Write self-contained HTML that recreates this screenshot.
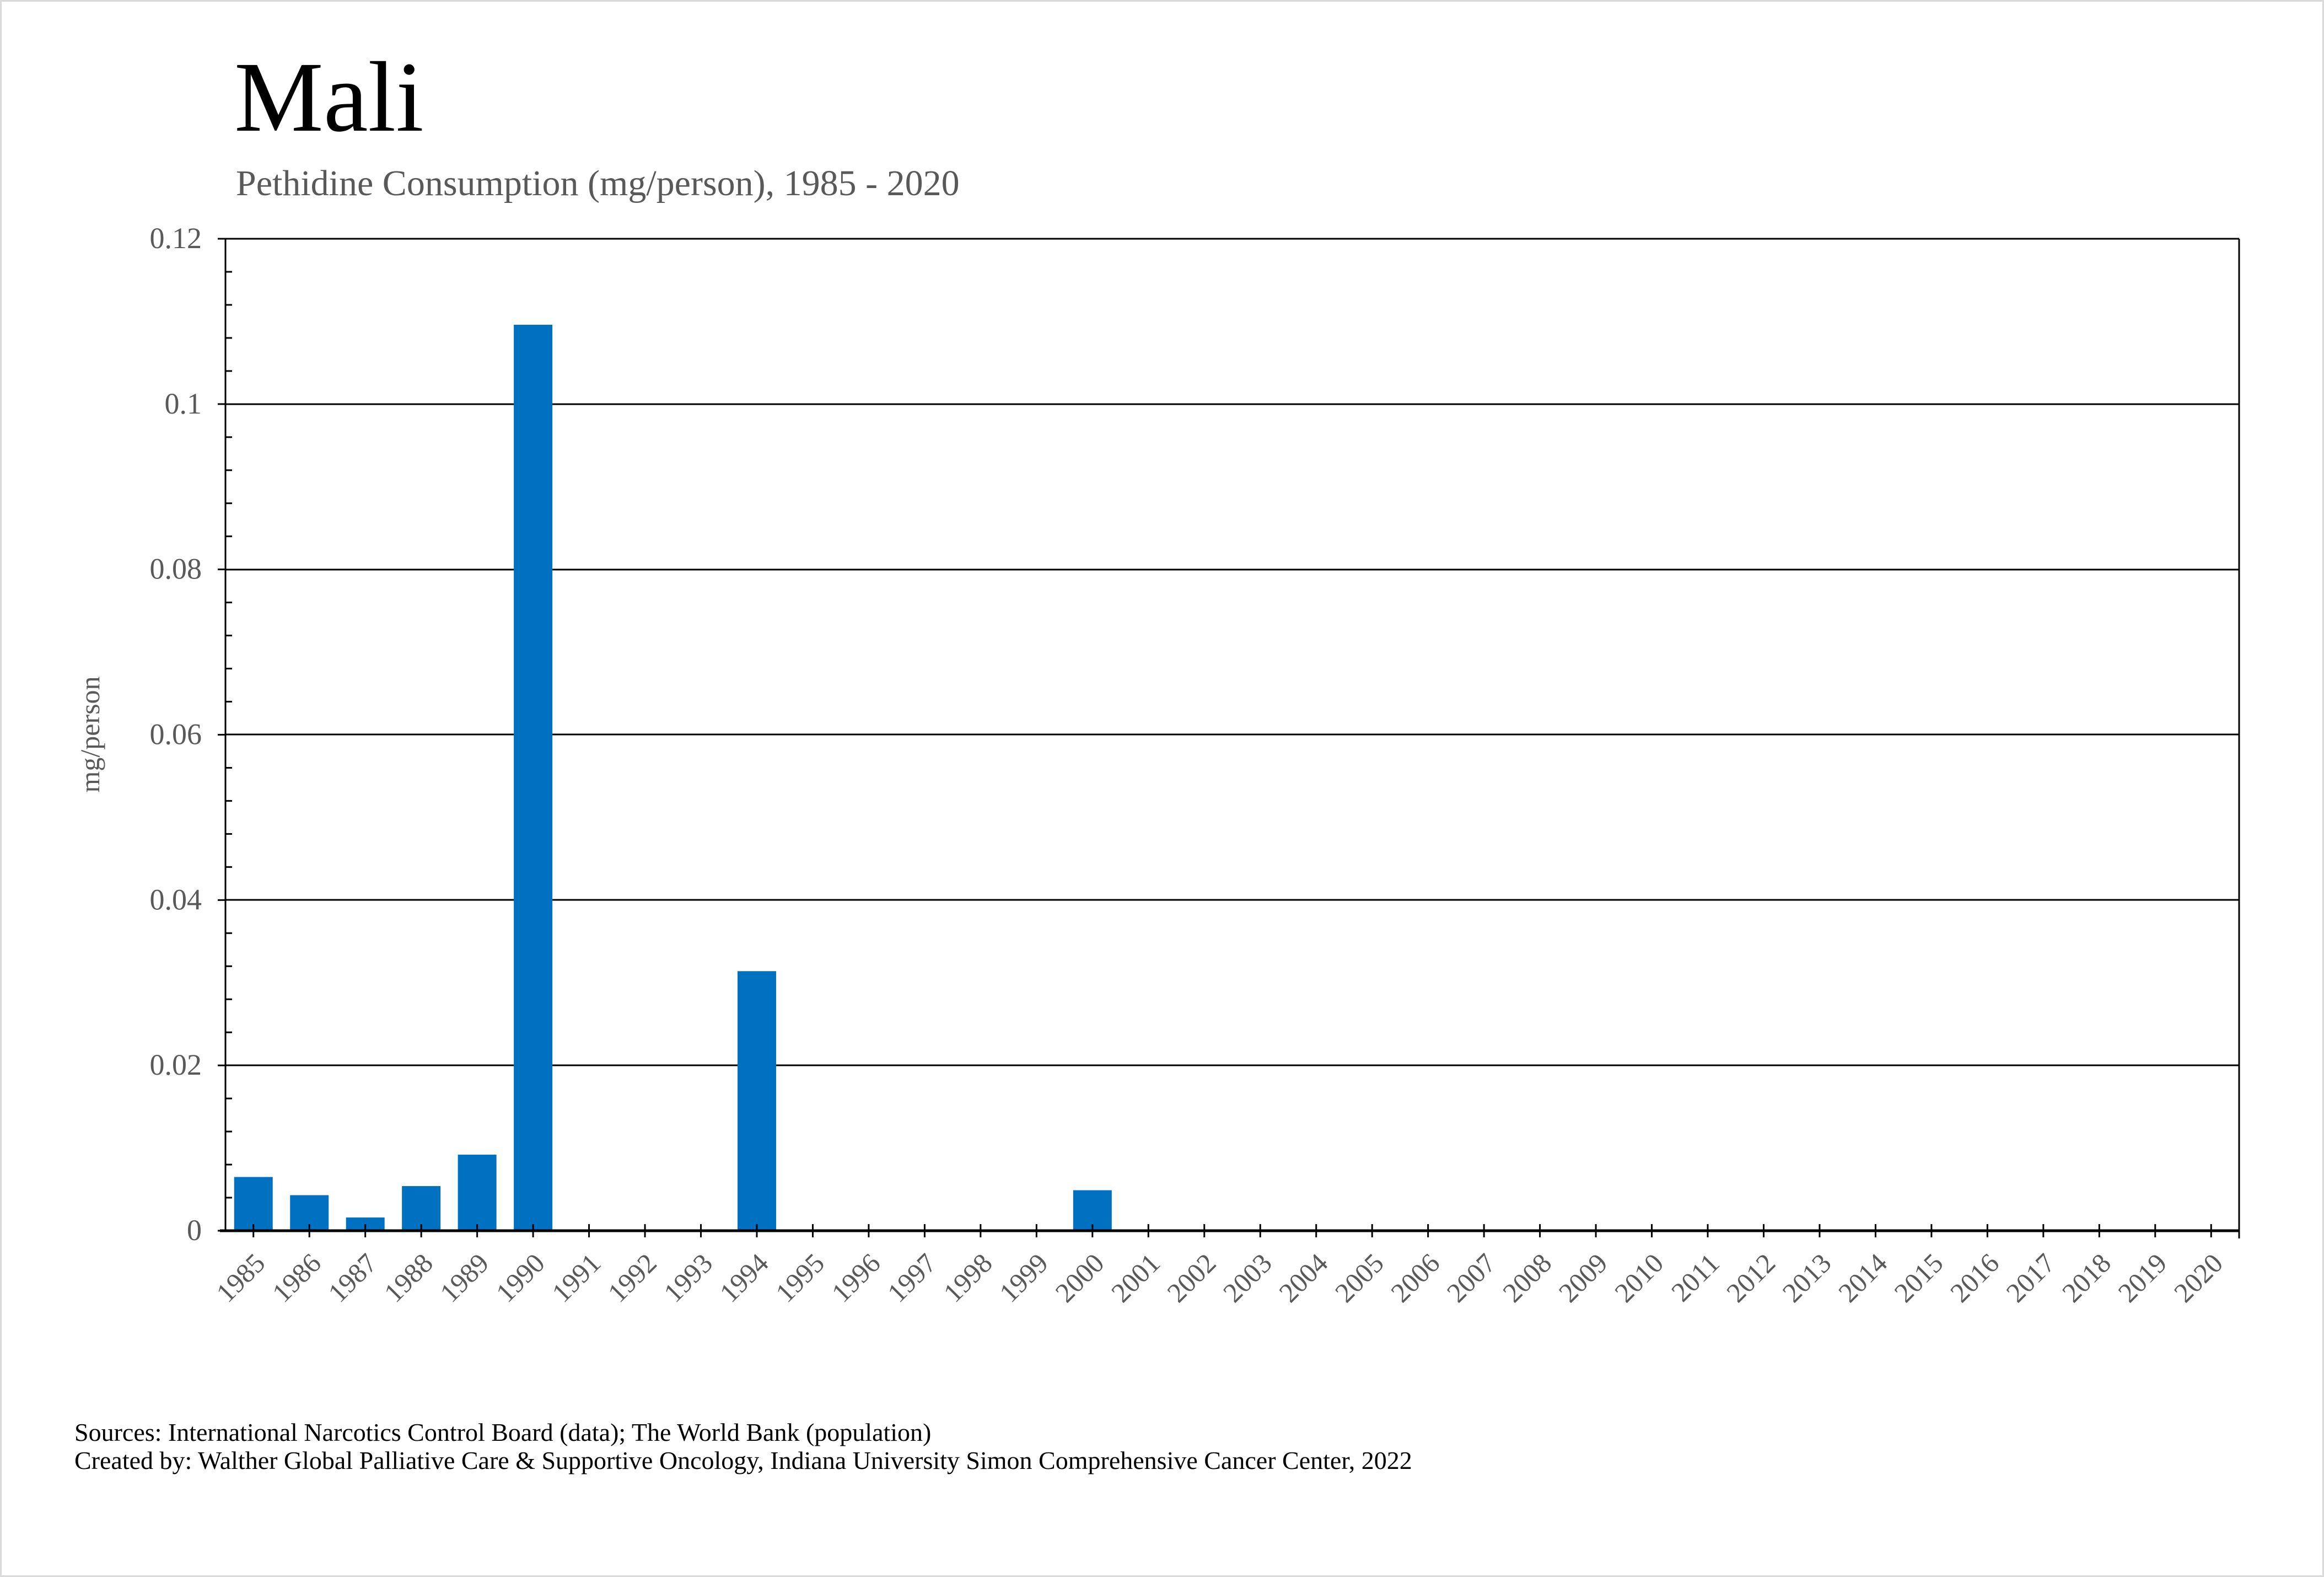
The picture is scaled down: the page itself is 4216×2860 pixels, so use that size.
<!DOCTYPE html>
<html><head><meta charset="utf-8"><style>
html,body{margin:0;padding:0;background:#fff}
svg{display:block}
text{font-family:"Liberation Serif",serif}
</style></head><body>
<svg width="4216" height="2860" xmlns="http://www.w3.org/2000/svg">
<rect x="1.5" y="1.5" width="4213" height="2857" fill="#fff" stroke="#d9d9d9" stroke-width="3"/>
<text x="425" y="237" font-size="182" fill="#000">Mali</text>
<text x="428" y="354" font-size="66" fill="#595959">Pethidine Consumption (mg/person), 1985 - 2020</text>
<g stroke="#000" stroke-width="3">
<line x1="409" y1="433" x2="4062" y2="433"/>
<line x1="409" y1="733" x2="4062" y2="733"/>
<line x1="409" y1="1033" x2="4062" y2="1033"/>
<line x1="409" y1="1332" x2="4062" y2="1332"/>
<line x1="409" y1="1632" x2="4062" y2="1632"/>
<line x1="409" y1="1932" x2="4062" y2="1932"/>
<line x1="4062" y1="433" x2="4062" y2="2246"/>
<line x1="409" y1="433" x2="409" y2="2232"/>
</g>
<g stroke="#000" stroke-width="3" id="yt"></g>
<g font-size="54" fill="#595959" text-anchor="end" id="yl"></g>
<g fill="#0070c0" id="bars"></g>
<line x1="399" y1="2232" x2="4062" y2="2232" stroke="#000" stroke-width="5"/>
<g stroke="#000" stroke-width="3" id="xt"></g>
<g font-size="50" fill="#595959" text-anchor="end" id="xl"></g>
<text transform="translate(180,1332) rotate(-90)" font-size="50" fill="#595959" text-anchor="middle">mg/person</text>
<text x="135" y="2613" font-size="46" fill="#000">Sources: International Narcotics Control Board (data); The World Bank (population)</text>
<text x="135" y="2664" font-size="46" fill="#000">Created by: Walther Global Palliative Care &amp; Supportive Oncology, Indiana University Simon Comprehensive Cancer Center, 2022</text>
<script>
var ns="http://www.w3.org/2000/svg";
function el(p,t,a,txt){var e=document.createElementNS(ns,t);for(var k in a)e.setAttribute(k,a[k]);if(txt!=null)e.textContent=txt;document.getElementById(p).appendChild(e);}
var y0=2232,per=299.83/0.02;
for(var i=0;i<=30;i++){var y=y0-i*(1799/30);if(i%5==0){el("yt","line",{x1:395,y1:y,x2:409,y2:y});}else{el("yt","line",{x1:409,y1:y,x2:421,y2:y});}}
var labs=["0","0.02","0.04","0.06","0.08","0.1","0.12"];
for(var i=0;i<7;i++){el("yl","text",{x:366,y:y0-i*299.83+17},labs[i]);}
var data={1985:0.0065,1986:0.0043,1987:0.0016,1988:0.0054,1989:0.0092,1990:0.1096,1994:0.0314,2000:0.0049};
var cw=(4062-409)/36;
for(var i=0;i<36;i++){var yr=1985+i;var cx=409+cw*(i+0.5);
if(data[yr]){var h=data[yr]*per;el("bars","rect",{x:cx-35,y:y0-h,width:70,height:h});}
el("xt","line",{x1:cx,y1:y0-12,x2:cx,y2:y0+12});
el("xl","text",{x:cx+24,y:2294,transform:"rotate(-45 "+(cx+24)+" 2294)"},String(yr));}
el("xt","line",{x1:4062,y1:y0,x2:4062,y2:y0+12});
</script>
</svg>
</body></html>
